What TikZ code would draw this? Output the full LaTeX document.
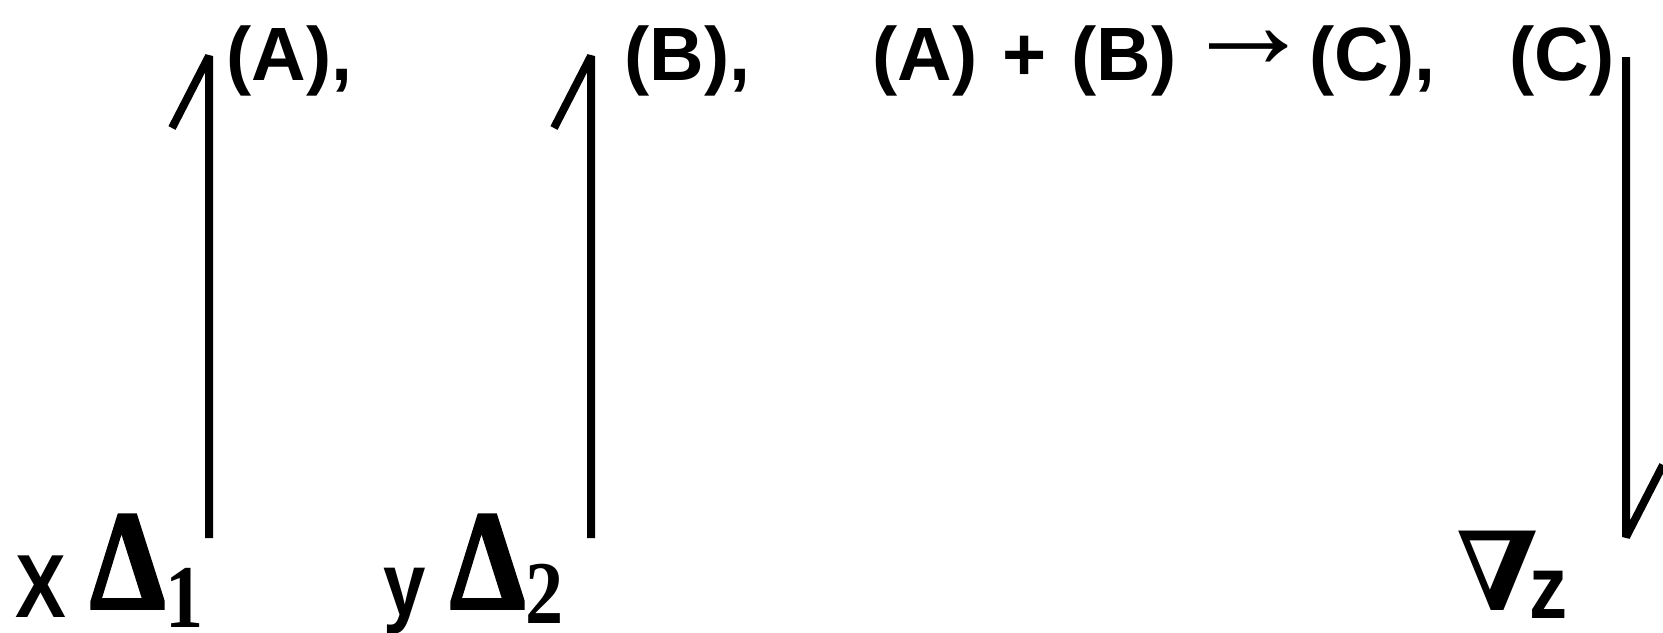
\documentclass[tikz,border=0pt]{standalone}
\usepackage{fontspec}
\usepackage{graphicx}
\setmainfont{Liberation Sans}
\newfontfamily\heavyserif[FakeBold=2.5]{Liberation Serif}
\newfontfamily\digitserif{Liberation Serif}
\newfontfamily\nablaserif{DejaVu Serif}
\usetikzlibrary{calc}
\newcommand{\squeeze}[1]{\scalebox{0.85}[1]{#1}}

\begin{document}
\begin{tikzpicture}[x=0.2mm, y=-0.2mm,
    reaction/.style={anchor=base west, inner sep=0pt, font=\fontsize{43}{50}\selectfont\bfseries},
    coordvar/.style={anchor=base west, inner sep=0pt, font=\fontsize{51}{60}\selectfont\bfseries},
    bigsym/.style={anchor=base west, inner sep=0pt, font=\fontsize{80}{90}\selectfont\heavyserif\bfseries},
    harpoon/.style={line width=4.55pt, line join=bevel, line cap=butt}]
    \useasboundingbox (0,0) rectangle (1663,633);

    % top row
    \node[reaction] (stepA) at (226,80) {(A),};
    \node[reaction] (stepB) at (624,80) {(B),};
    \node[reaction] (stepAB) at (872,80)
        {(A)\hspace{0.8mm} +\hspace{0.8mm} (B)\hspace{1.2mm}\smash{\raisebox{2.4mm}{\scalebox{1.75}{→}}}\hspace{-1mm}(C),};
    \node[reaction] (stepC) at (1509,80) {(C)};

    % bottom row
    \node[coordvar] (xvar) at (15,617) {\squeeze{X}};
    \node[bigsym] (delta1) at (90,608) {\squeeze{Δ}{\fontsize{51}{60}\selectfont\digitserif\raisebox{-3.8mm}{\smash{\squeeze{1}}}}};
    \node[coordvar] (yvar) at (383,615) {\squeeze{y}};
    \node[bigsym] (delta2) at (450,608) {\squeeze{Δ}{\fontsize{51}{60}\selectfont\digitserif\raisebox{-3mm}{\smash{\squeeze{2}}}}};
    \node[anchor=base west, inner sep=0pt, font=\fontsize{62}{70}\selectfont\nablaserif\bfseries] (nabla) at (1456,610) {∇};
    \node[coordvar] (zvar) at (1529,618) {\squeeze{z}};

    % harpoons
    \coordinate (xfoot) at (209,538);
    \coordinate (xhead) at (209,56);
    \coordinate (yfoot) at (591,538);
    \coordinate (yhead) at (591,56);
    \coordinate (ctop) at (1626,57);
    \coordinate (cfoot) at (1626,537);
    \draw[harpoon] (xfoot) -- (xhead) -- ++(-37,72);
    \draw[harpoon] (yfoot) -- (yhead) -- ++(-37,72);
    \draw[harpoon] (ctop) -- (cfoot) -- ++(37,-72);
\end{tikzpicture}
\end{document}
